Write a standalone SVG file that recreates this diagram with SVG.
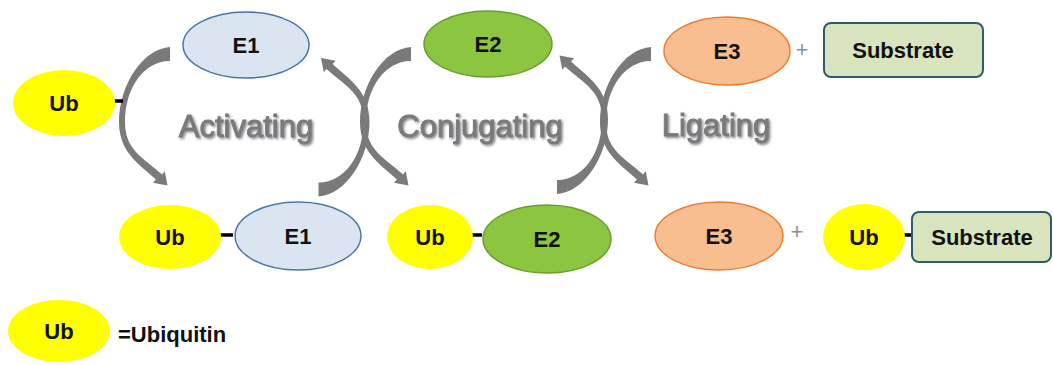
<svg xmlns="http://www.w3.org/2000/svg" xmlns:xlink="http://www.w3.org/1999/xlink" width="1053" height="365" viewBox="0 0 1053 365">
<style>
  .lbl { font-family: "Liberation Sans", Arial, sans-serif; font-weight: bold; font-size: 22px; fill: #111; text-anchor: middle; }
  .step { font-family: "Liberation Sans", Arial, sans-serif; font-size: 31px; fill: #7a7a7a; stroke: #7a7a7a; stroke-width: 0.9; text-anchor: middle; filter: url(#shadow); }
  .plus { font-family: "Liberation Sans", Arial, sans-serif; font-size: 22px; fill: #7f93ad; text-anchor: middle; }
  .ub { fill: #ffff00; }
  .e1 { fill: #dbe4f1; stroke: #4a76a8; stroke-width: 1.5; }
  .e2 { fill: #8cc540; stroke: #6a9e2f; stroke-width: 1.5; }
  .e3 { fill: #f8be8f; stroke: #ed7d31; stroke-width: 1.5; }
  .sub { fill: #d7e4bd; stroke: #2f5b6f; stroke-width: 2; }
  .bond { stroke: #000; stroke-width: 3.5; }
  .arrow { fill: #7a7a7a; }
</style>
<defs>
  <filter id="shadow" x="-10%" y="-20%" width="130%" height="150%">
    <feDropShadow dx="1.5" dy="1.5" stdDeviation="0.8" flood-color="#2a3440" flood-opacity="0.6"/>
  </filter>
  <path id="arc" d="M170,47 C143,48.5 119,85 119,122 C119,151 136.9,162.5 155.9,179.5 L153,182.7 L167.5,185.5 L164.7,171.3 L162.1,174.5 C143.1,157.5 125,150 125,122 C125,87 145,60.5 170,61 Z"/>
</defs>

<g id="connectors">
  <use xlink:href="#arc" class="arrow"/>
  <use xlink:href="#arc" class="arrow" transform="translate(241,0)"/>
  <use xlink:href="#arc" class="arrow" transform="translate(481,0)"/>
  <use xlink:href="#arc" class="arrow" transform="matrix(-1 0 0 -1 488.5 243.5)"/>
  <use xlink:href="#arc" class="arrow" transform="matrix(-1 0 0 -1 727 241)"/>
  <line class="bond" x1="108" y1="101" x2="123" y2="101"/>
  <line class="bond" x1="217" y1="235" x2="233" y2="235"/>
  <line class="bond" x1="468" y1="235" x2="482" y2="235"/>
  <line class="bond" x1="903" y1="235" x2="913" y2="235"/>
</g>

<g id="labels">
  <text class="step" x="246" y="137">Activating</text>
  <text class="step" x="480" y="137">Conjugating</text>
  <text class="step" x="716" y="136">Ligating</text>
  <text class="plus" x="802" y="57">+</text>
  <text class="plus" x="797" y="239">+</text>
</g>

<g id="ub-free">
  <ellipse class="ub" cx="64" cy="103" rx="51" ry="33"/>
  <text class="lbl" x="64" y="111">Ub</text>
</g>
<g id="e1-top">
  <ellipse class="e1" cx="246" cy="45" rx="63" ry="33"/>
  <text class="lbl" x="246" y="53">E1</text>
</g>
<g id="e2-top">
  <ellipse class="e2" cx="488" cy="44" rx="64" ry="33"/>
  <text class="lbl" x="488" y="52">E2</text>
</g>
<g id="e3-top">
  <ellipse class="e3" cx="727" cy="51" rx="63" ry="34"/>
  <text class="lbl" x="727" y="59">E3</text>
</g>
<g id="substrate-top">
  <rect class="sub" x="824" y="23" width="159" height="54" rx="7"/>
  <text class="lbl" x="903" y="58">Substrate</text>
</g>

<g id="ub-e1">
  <ellipse class="ub" cx="170" cy="237" rx="51" ry="32"/>
  <text class="lbl" x="170" y="245">Ub</text>
</g>
<g id="e1-bottom">
  <ellipse class="e1" cx="298" cy="236" rx="63" ry="34"/>
  <text class="lbl" x="298" y="244">E1</text>
</g>
<g id="ub-e2">
  <ellipse class="ub" cx="430" cy="237" rx="43" ry="32"/>
  <text class="lbl" x="430" y="245">Ub</text>
</g>
<g id="e2-bottom">
  <ellipse class="e2" cx="547" cy="239" rx="64" ry="34"/>
  <text class="lbl" x="547" y="247">E2</text>
</g>
<g id="e3-bottom">
  <ellipse class="e3" cx="719" cy="236" rx="64" ry="34"/>
  <text class="lbl" x="719" y="244">E3</text>
</g>
<g id="ub-substrate">
  <ellipse class="ub" cx="864" cy="237" rx="41" ry="33"/>
  <text class="lbl" x="864" y="245">Ub</text>
</g>
<g id="substrate-bottom">
  <rect class="sub" x="912" y="212" width="139" height="50" rx="7"/>
  <text class="lbl" x="982" y="245">Substrate</text>
</g>

<g id="legend">
  <ellipse class="ub" cx="59" cy="331" rx="51" ry="31"/>
  <text class="lbl" x="59" y="339">Ub</text>
  <text class="lbl" x="118" y="342" style="text-anchor:start">=Ubiquitin</text>
</g>
</svg>
